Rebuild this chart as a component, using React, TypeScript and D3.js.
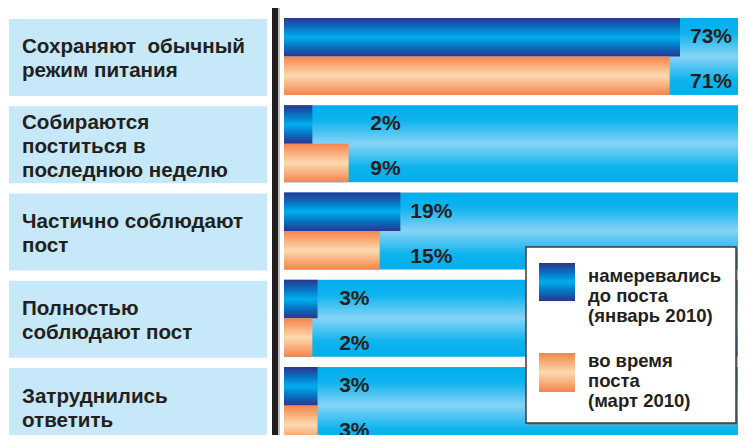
import React from "react";
import * as d3 from "d3";

const categories: string[][] = [
  ["Сохраняют  обычный", "режим питания"],
  ["Собираются", "поститься в", "последнюю неделю"],
  ["Частично соблюдают", "пост"],
  ["Полностью", "соблюдают пост"],
  ["Затруднились", "ответить"],
];
const beforeValues = [73, 2, 19, 3, 3];
const duringValues = [71, 9, 15, 2, 3];
const legendBefore = ["намеревались", "до поста", "(январь 2010)"];
const legendDuring = ["во время", "поста", "(март 2010)"];

const W = 746;
const H = 443;
const FONT = "'Liberation Sans', Arial, Helvetica, sans-serif";
const TEXT = "#231f20";

export default function App() {
  const ids = categories.map((_, i) => String(i));
  const y = d3.scaleBand<string>().domain(ids).range([18, 444]).paddingInner(0.118).paddingOuter(0);
  const barX0 = 284;
  const x = d3.scaleLinear().domain([0, 73]).range([barX0 + 18, 680]);
  const bw = y.bandwidth();
  const half = bw / 2;

  return (
    <div style={{ margin: -8 }}>
      <svg width={W} height={H} style={{ display: "block", background: "#fff" }} fontFamily={FONT}>
        <defs>
          <linearGradient id="stripe" x1="0" y1="0" x2="0" y2="1">
            <stop offset="0" stopColor="#00aeec" />
            <stop offset="0.2" stopColor="#0fb3ee" />
            <stop offset="0.5" stopColor="#86d4f6" />
            <stop offset="0.8" stopColor="#0fb3ee" />
            <stop offset="1" stopColor="#00aeec" />
          </linearGradient>
          <linearGradient id="blue" x1="0" y1="0" x2="0" y2="1">
            <stop offset="0" stopColor="#2b3590" />
            <stop offset="0.25" stopColor="#0872c0" />
            <stop offset="0.5" stopColor="#00aeef" />
            <stop offset="0.75" stopColor="#0872c0" />
            <stop offset="1" stopColor="#2b3590" />
          </linearGradient>
          <linearGradient id="orange" x1="0" y1="0" x2="0" y2="1">
            <stop offset="0" stopColor="#f5844a" />
            <stop offset="0.5" stopColor="#fdd9af" />
            <stop offset="1" stopColor="#f5844a" />
          </linearGradient>
        </defs>

        {/* vertical axis line */}
        <rect x={278} y={8} width={2} height={H - 8} fill="#bdbdbd" />
        <rect x={272} y={8} width={6} height={H - 8} fill="#231f20" />

        {categories.map((lines, i) => {
          const top = y(String(i)) as number;
          const cy = top + bw / 2;
          const lh = 24;
          const firstBase = cy + 9 - ((lines.length - 1) * lh) / 2;
          const bEnd = x(beforeValues[i]);
          const dEnd = x(duringValues[i]);
          const labelX = Math.max(bEnd, dEnd) + 52;
          return (
            <g key={i}>
              <rect x={9} y={top + 1} width={258} height={bw} fill="#c6e8f8" />
              <text fill={TEXT} fontSize={20.6} fontWeight="bold" style={{ whiteSpace: "pre" }}>
                {lines.map((l, k) => (
                  <tspan key={k} x={22} y={firstBase + k * lh}>
                    {l}
                  </tspan>
                ))}
              </text>
              <rect x={barX0} y={top} width={W - barX0} height={bw} fill="url(#stripe)" />
              <rect x={barX0} y={top} width={bEnd - barX0} height={half} fill="url(#blue)" />
              <rect x={barX0} y={top + half} width={dEnd - barX0} height={half} fill="url(#orange)" />
              <text x={labelX} y={top + 25} textAnchor="end" fill={TEXT} fontSize={21} fontWeight="bold">
                {beforeValues[i]}%
              </text>
              <text x={labelX} y={top + 70} textAnchor="end" fill={TEXT} fontSize={21} fontWeight="bold">
                {duringValues[i]}%
              </text>
            </g>
          );
        })}

        {/* legend */}
        <g>
          <rect x={528} y={249} width={210} height={176} fill="#6b6b6b" opacity={0.5} />
          <rect x={526} y={247} width={210} height={176} fill="#fff" stroke="#3a3a3a" strokeWidth={1.5} />
          <rect x={539} y={263} width={36} height={38} fill="url(#blue)" />
          <rect x={539} y={353} width={36} height={39} fill="url(#orange)" />
          <text fill={TEXT} fontSize={18.5} fontWeight="bold">
            {legendBefore.map((l, k) => (
              <tspan key={k} x={588} y={282 + k * 20}>
                {l}
              </tspan>
            ))}
          </text>
          <text fill={TEXT} fontSize={18.5} fontWeight="bold">
            {legendDuring.map((l, k) => (
              <tspan key={k} x={588} y={367 + k * 20}>
                {l}
              </tspan>
            ))}
          </text>
        </g>
      </svg>
    </div>
  );
}
